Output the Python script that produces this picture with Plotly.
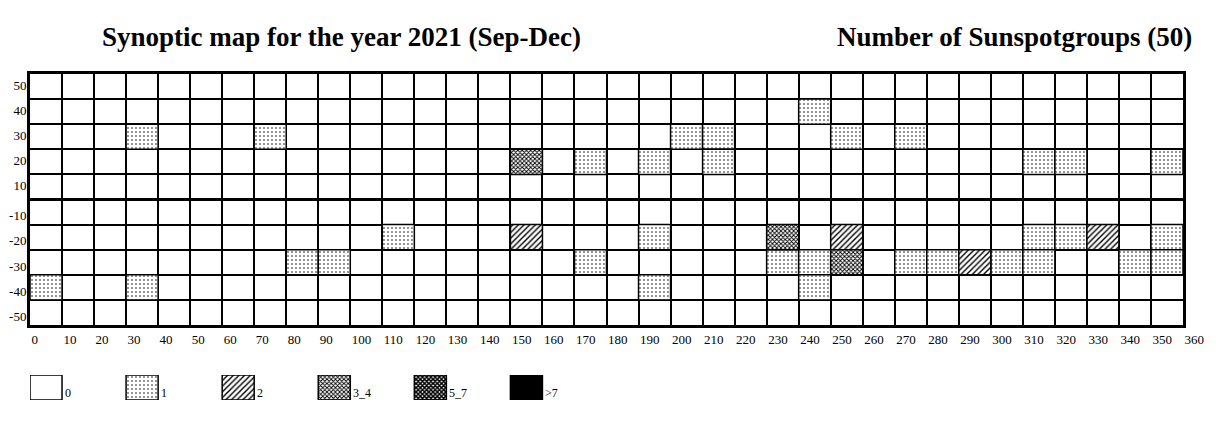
import plotly.graph_objects as go

# ---- data ----
# each sunspot-group cell: longitude (left edge, deg), latitude band lower edge (deg), count
cell_lon = [240,
            30, 70, 200, 210, 250, 270,
            150, 170, 190, 210, 310, 320, 350,
            110, 150, 190, 230, 250, 310, 320, 330, 350,
            80, 90, 170, 230, 240, 250, 270, 280, 290, 300, 310, 340, 350,
            0, 30, 190, 240]
cell_lat = [30,
            20, 20, 20, 20, 20, 20,
            10, 10, 10, 10, 10, 10, 10,
            -20, -20, -20, -20, -20, -20, -20, -20, -20,
            -30, -30, -30, -30, -30, -30, -30, -30, -30, -30, -30, -30, -30,
            -40, -40, -40, -40]
cell_count = [1,
              1, 1, 1, 1, 1, 1,
              3, 1, 1, 1, 1, 1, 1,
              1, 2, 1, 3, 2, 1, 1, 2, 1,
              1, 1, 1, 1, 1, 3, 1, 1, 2, 1, 1, 1, 1,
              1, 1, 1, 1]

categories = ["0", "1", "2", "3_4", "5_7", ">7"]
lon_ticks = list(range(0, 361, 10))
lat_labels = [50, 40, 30, 20, 10, -10, -20, -30, -40, -50]

title_left = "Synoptic map for the year 2021 (Sep-Dec)"
title_right = "Number of Sunspotgroups ({})".format(sum(cell_count))

# y labels sit inside their 10-degree band (slightly shifted as in the reference)
lat_tick_pos = [(L - 4.5) if L > 0 else (L + 3.5) for L in lat_labels]

# ---- styles ----
FONT = "Liberation Serif, Times New Roman, serif"
styles = {
    "0":   dict(color="white"),
    "1":   dict(color="white", pattern=dict(shape=".", fgcolor="black", bgcolor="white", size=4, solidity=0.12, fillmode="replace")),
    "2":   dict(color="white", pattern=dict(shape="/", fgcolor="black", bgcolor="white", size=4, solidity=0.35, fillmode="replace")),
    "3_4": dict(color="white", pattern=dict(shape="x", fgcolor="black", bgcolor="white", size=3, solidity=0.5, fillmode="replace")),
    "5_7": dict(color="white", pattern=dict(shape="x", fgcolor="black", bgcolor="white", size=3, solidity=0.75, fillmode="replace")),
    ">7":  dict(color="black"),
}


def category(n):
    if n <= 0:
        return "0"
    if n == 1:
        return "1"
    if n == 2:
        return "2"
    if n <= 4:
        return "3_4"
    if n <= 7:
        return "5_7"
    return ">7"


fig = go.Figure()

# map cells
for cat in categories[1:]:
    idx = [i for i, n in enumerate(cell_count) if category(n) == cat]
    if not idx:
        continue
    fig.add_trace(go.Bar(
        x=[cell_lon[i] + 5 for i in idx],
        y=[10] * len(idx),
        base=[cell_lat[i] for i in idx],
        width=10,
        marker=dict(line=dict(color="black", width=1.5), **styles[cat]),
        xaxis="x", yaxis="y",
        showlegend=False, hoverinfo="skip",
    ))

# custom legend boxes (one per category) in a small subplot below the map
for k, cat in enumerate(categories):
    fig.add_trace(go.Bar(
        x=[k * 30 + 5], y=[1], base=[0], width=10,
        marker=dict(line=dict(color="black", width=1.5), **styles[cat]),
        xaxis="x2", yaxis="y2",
        showlegend=False, hoverinfo="skip",
    ))
    fig.add_annotation(
        x=k * 30 + 10, y=0, xref="x2", yref="y2",
        text=cat, showarrow=False, xanchor="left", yanchor="bottom",
        xshift=1, yshift=-2,
        font=dict(family=FONT, size=12, color="black"),
    )

# titles
fig.add_annotation(x=(341 - 30) / 1153, y=1.1135, xref="paper", yref="paper",
                   text="<b>" + title_left + "</b>", showarrow=False,
                   xanchor="center", yanchor="middle",
                   font=dict(family=FONT, size=27, color="black"))
fig.add_annotation(x=(1194 - 30) / 1153, y=1.1135, xref="paper", yref="paper",
                   text="<b>" + title_right + "</b>", showarrow=False,
                   xanchor="right", yanchor="middle",
                   font=dict(family=FONT, size=27, color="black"))

main_bottom = 75 / 326
fig.update_layout(
    width=1200, height=411,
    margin=dict(l=22, r=25, t=66, b=19),
    paper_bgcolor="white", plot_bgcolor="white",
    barmode="overlay",
    showlegend=False,
    font=dict(family=FONT, size=13, color="black"),
    xaxis=dict(
        range=[0, 360], domain=[0, 1], anchor="y", automargin=False,
        tickmode="array", tickvals=lon_ticks, ticktext=[str(v) for v in lon_ticks],
        ticklabelposition="outside right",
        ticks="", showgrid=True, gridcolor="black", gridwidth=1.5,
        showline=True, linecolor="black", linewidth=3, mirror=True,
        zeroline=False, fixedrange=True,
        tickfont=dict(family=FONT, size=13, color="black"),
    ),
    yaxis=dict(
        range=[-50, 50], domain=[main_bottom, 1], anchor="x", automargin=False,
        tickmode="array", tickvals=lat_tick_pos, ticktext=[str(v) for v in lat_labels],
        ticks="", showgrid=False, ticklabelstandoff=-2,
        minor=dict(tickmode="array", tickvals=list(range(-50, 51, 10)),
                   showgrid=True, gridcolor="black", gridwidth=1.5, ticks=""),
        zeroline=True, zerolinecolor="black", zerolinewidth=3,
        showline=True, linecolor="black", linewidth=3, mirror=True,
        fixedrange=True,
        tickfont=dict(family=FONT, size=13, color="black"),
    ),
    xaxis2=dict(range=[0, 360], domain=[0, 1], anchor="y2", visible=False,
                fixedrange=True, automargin=False),
    yaxis2=dict(range=[0, 1], domain=[0, 25 / 326], anchor="x2", visible=False,
                fixedrange=True, automargin=False),
)

fig.write_html("out.html")
